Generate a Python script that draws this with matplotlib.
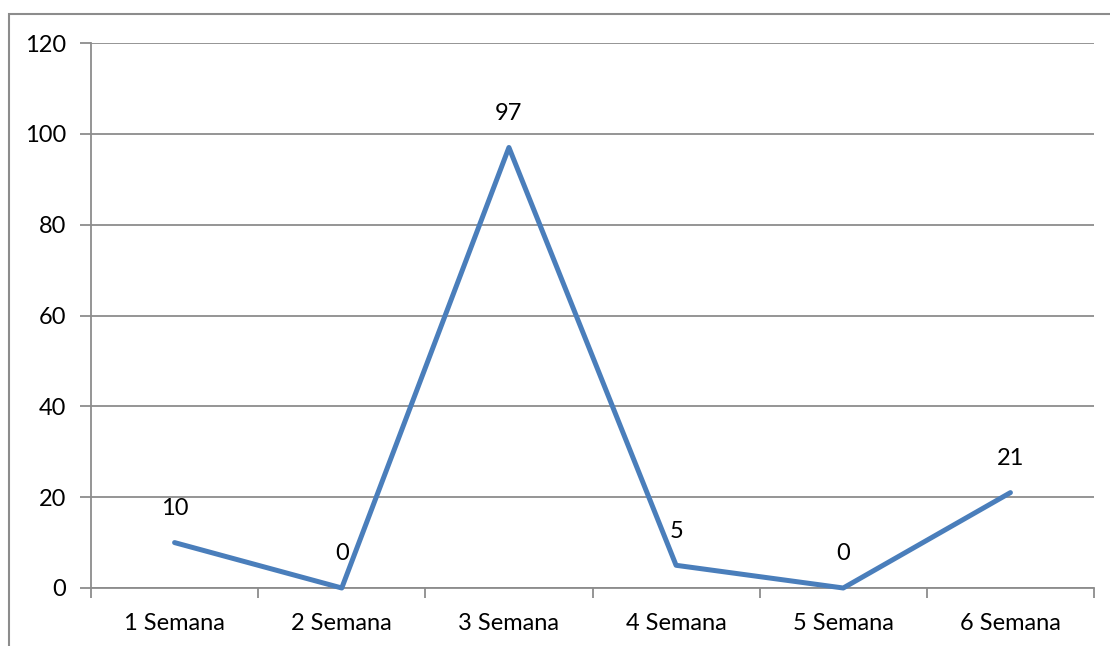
import matplotlib.pyplot as plt
from matplotlib.patches import Rectangle

categorias = ['1 Semana', '2 Semana', '3 Semana', '4 Semana', '5 Semana', '6 Semana']
valores = [10, 0, 97, 5, 0, 21]
y_ticks = [0, 20, 40, 60, 80, 100, 120]

plt.rcParams['font.family'] = ['Lato', 'DejaVu Sans']

W, H = 1110, 646
fig = plt.figure(figsize=(W / 100, H / 100), dpi=100)

# chart frame (only left and top edges fall inside the image)
fig.add_artist(Rectangle((8.5 / W, -0.1), 1.2, 1.1 - 13.5 / H, transform=fig.transFigure,
                         fill=False, edgecolor='#8c8c8c', linewidth=1.5))

left, right, top, bottom = 91, 1094, 43, 588
ax = fig.add_axes([left / W, 1 - bottom / H, (right - left) / W, (bottom - top) / H])

x = list(range(len(categorias)))
ax.plot(x, valores, color='#4a7ebb', linewidth=3.6, solid_capstyle='round', zorder=3, clip_on=False)

for xi, v in zip(x, valores):
    ax.annotate(str(v), (xi, v), xytext=(0, 17), textcoords='offset points',
                ha='center', va='bottom', fontsize=17, color='black')

ax.set_xlim(-0.5, len(categorias) - 0.5)
ax.set_ylim(0, 120)
ax.set_yticks(y_ticks)
ax.yaxis.grid(True, color='#8c8c8c', linewidth=1.3)
ax.set_axisbelow(True)

ax.set_xticks(x)
ax.set_xticklabels(categorias, fontsize=17)
ax.set_xticks([i - 0.5 for i in range(len(categorias) + 1)], minor=True)
ax.tick_params(axis='x', which='major', length=0, pad=18)
ax.tick_params(axis='x', which='minor', length=7, width=1.3, color='#8c8c8c', direction='out')
ax.tick_params(axis='y', length=8, width=1.3, color='#8c8c8c', labelsize=17, pad=10)

for s in ['top', 'right']:
    ax.spines[s].set_visible(False)
for s in ['left', 'bottom']:
    ax.spines[s].set_color('#8c8c8c')
    ax.spines[s].set_linewidth(1.3)

fig.savefig('out.png', dpi=100)
